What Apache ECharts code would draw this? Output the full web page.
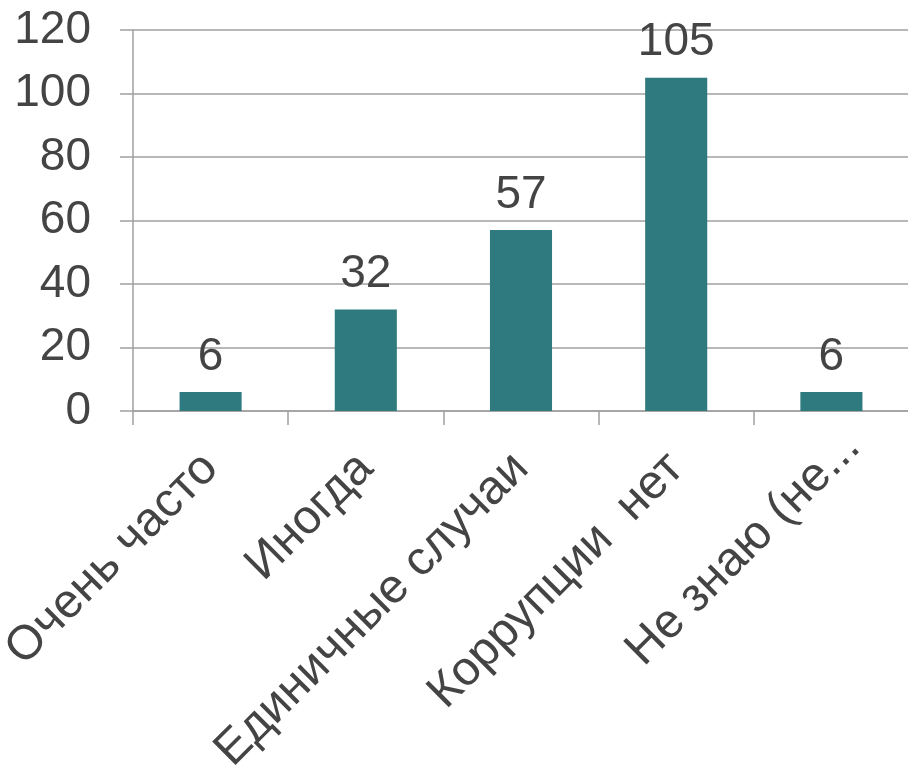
<!DOCTYPE html>
<html>
<head>
<meta charset="utf-8">
<script src="https://cdn.jsdelivr.net/npm/echarts@6/dist/echarts.min.js"></script>
<style>
  html, body { margin: 0; padding: 0; background: #fff; }
  #chart { width: 908px; height: 768px; }
</style>
</head>
<body>
<div id="chart"></div>
<script>
// данные
var categories = ['Очень часто', 'Иногда', 'Единичные случаи', 'Коррупции  нет', 'Не знаю (не...'];
var values = [6, 32, 57, 105, 6];
var yTicks = { min: 0, max: 120, interval: 20 };

var textColor = '#444444';
var lineColor = '#a0a0a0';
var barColor = '#2e7a7e';
var font = 'Liberation Sans, Arial, sans-serif';

var myChart = echarts.init(document.getElementById('chart'));

// последняя подпись в оригинале сдвинута вдоль направления текста
var xData = categories.map(function (c, i) {
    if (i === categories.length - 1) {
        return { value: c, textStyle: { padding: [0, -30, 0, 0] } };
    }
    return c;
});

var option = {
    animation: false,
    grid: { left: 133, right: -1, top: 30, bottom: 357, containLabel: false, outerBoundsMode: 'none' },
    xAxis: {
        type: 'category',
        data: xData,
        axisLine: { lineStyle: { color: lineColor, width: 1.5 } },
        axisTick: { show: true, length: 14, lineStyle: { color: lineColor, width: 1.5 } },
        axisLabel: {
            rotate: 45,
            interval: 0,
            margin: 50,
            color: textColor,
            fontSize: 48,
            fontFamily: font
        }
    },
    yAxis: {
        type: 'value',
        min: yTicks.min,
        max: yTicks.max,
        interval: yTicks.interval,
        axisLine: { show: true, lineStyle: { color: lineColor, width: 1.5 } },
        axisTick: { show: true, length: 13, lineStyle: { color: lineColor, width: 1.5 } },
        splitLine: { show: true, lineStyle: { color: lineColor, width: 1.5 } },
        axisLabel: {
            margin: 42,
            color: textColor,
            fontSize: 46,
            fontFamily: font
        }
    },
    series: [{
        type: 'bar',
        data: values,
        barWidth: '40%',
        itemStyle: { color: barColor },
        label: {
            show: true,
            position: 'top',
            distance: 12,
            color: textColor,
            fontSize: 46,
            fontFamily: font
        }
    }]
};

myChart.setOption(option);
</script>
</body>
</html>
